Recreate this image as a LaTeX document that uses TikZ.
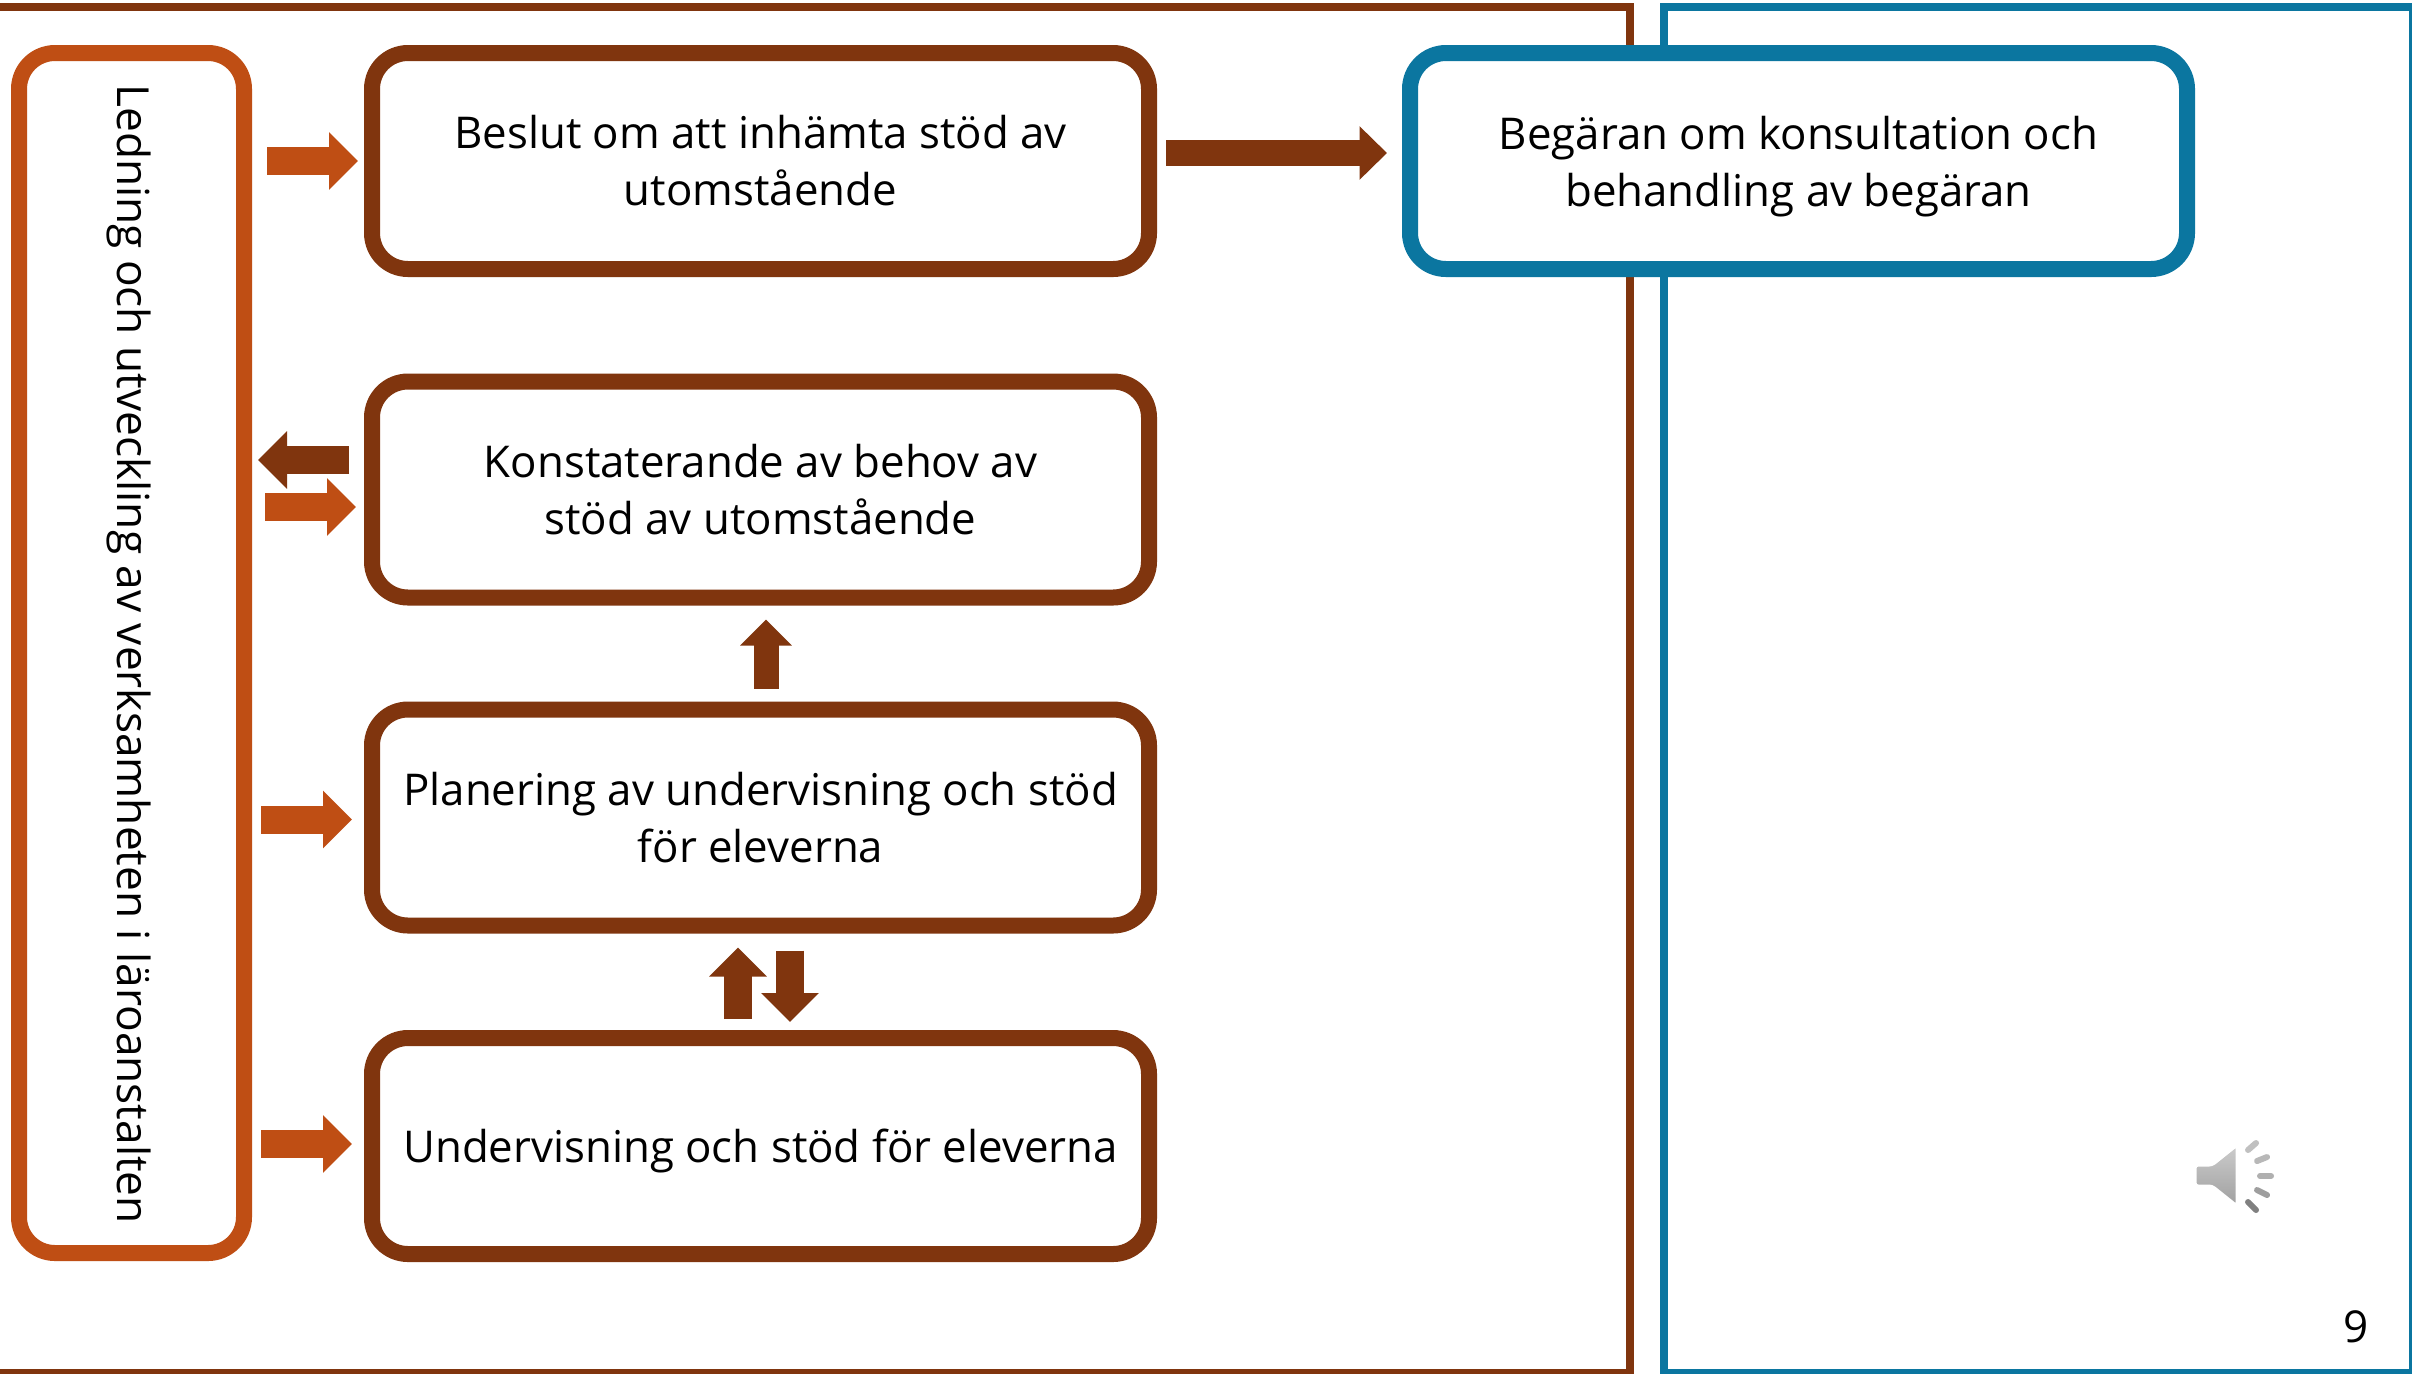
\documentclass[tikz,border=0pt]{standalone}
\usepackage{fontspec}
\setmainfont{Open Sans}
\usetikzlibrary{arrows.meta}
\definecolor{rust}{HTML}{BF4E14}
\definecolor{brownc}{HTML}{80350E}
\definecolor{bluec}{HTML}{0B76A0}
\definecolor{spk}{HTML}{B0B0B0}
\tikzset{
  frame/.style={draw=#1,line width=4pt,fill=white,inner sep=0pt,outer sep=0pt,anchor=north west},
  flowbox/.style={draw=#1,line width=8pt,fill=white,rounded corners=18pt,inner sep=0pt,outer sep=4pt,
     minimum width=388.5pt,minimum height=108pt,align=center,font=\fontsize{21.9}{28.5}\selectfont},
  blockR/.style={draw=rust,line width=14pt,-{Triangle[length=14.5pt,width=28pt]}},
  blockB/.style={draw=brownc,line width=14pt,-{Triangle[length=14.5pt,width=28pt]}},
  spkdash/.style={draw=spk,line width=3pt,line cap=round},
}
\begin{document}
\begin{tikzpicture}[x=0.5pt,y=-0.5pt]
\useasboundingbox (0,0) rectangle (2412,1373);
\fill[white] (0,0) rectangle (2412,1373);
% frames
\node[frame=brownc,minimum width=825pt,minimum height=683pt] (fl) at (-20,7) {};
\node[frame=bluec,minimum width=374.75pt,minimum height=683pt] (fr) at (1663.5,7) {};
% boxes
\node[flowbox=rust,minimum width=112.5pt,minimum height=600pt] (lead) at (131.5,653) {};
\node[rotate=-90,font=\fontsize{22.1}{28.5}\selectfont] (leadtext) at (129,654) {Ledning och utveckling av verksamheten i läroanstalten};
\node[flowbox=brownc] (b1) at (760.5,161) {Beslut om att inhämta stöd av\\utomstående};
\node[flowbox=brownc] (b2) at (760.5,489.5) {Konstaterande av behov av\\stöd av utomstående};
\node[flowbox=brownc] (b3) at (760.5,817.5) {Planering av undervisning och stöd\\för eleverna};
\node[flowbox=brownc,text depth=0pt] (b4) at (760.5,1146) {Undervisning och stöd för eleverna};
\node[flowbox=bluec,text depth=0pt] (req) at (1798.5,161) {Begäran om konsultation och\\behandling av begäran};
% arrow levels
\coordinate (a2y) at (0,153);
\coordinate (a3y) at (0,460);
\coordinate (a4y) at (0,507);
\coordinate (a6y) at (0,819.5);
\coordinate (a7y) at (0,1144);
% arrows
\draw[blockR,shorten <=7.5pt,shorten >=3pt] (lead.east |- b1.west) -- (b1.west);
\draw[blockB,line width=13pt,-{Triangle[length=13.75pt,width=26pt]},shorten <=4.5pt,shorten >=7.5pt] (b1.east |- a2y) -- (req.west |- a2y);
\draw[blockB,shorten <=7.5pt,shorten >=3pt] (b2.west |- a3y) -- (lead.east |- a3y);
\draw[blockR,shorten <=6.5pt,shorten >=4pt] (lead.east |- a4y) -- (b2.west |- a4y);
\draw[blockR,shorten <=4.5pt,shorten >=6pt] (lead.east |- a6y) -- (b3.west |- a6y);
\draw[blockR,shorten <=4.5pt,shorten >=6pt] (lead.east |- a7y) -- (b4.west |- a7y);
\draw[blockB,line width=12.5pt,-{Triangle[length=13pt,width=25pt]},shorten <=6.5pt,shorten >=7pt] ([xshift=2.75pt]b3.north) -- ([xshift=2.75pt]b2.south);
\draw[blockB,shorten <=5.5pt,shorten >=7pt] ([xshift=-11.25pt]b4.north) -- ([xshift=-11.25pt]b3.south);
\draw[blockB,shorten <=8.5pt,shorten >=4pt] ([xshift=14.75pt]b3.south) -- ([xshift=14.75pt]b4.north);
% speaker
\path[draw=white,line width=1.5pt,top color=gray!40,bottom color=gray!75,rounded corners=1.5pt]
  (2195,1165) -- (2212,1165) -- (2237,1145) -- (2237,1206) -- (2212,1186) -- (2195,1186) -- cycle;
\draw[spkdash,spk!80] (2248,1150) -- (2256,1143);
\draw[spkdash,spk!90] (2257,1161) -- (2267,1157);
\draw[spkdash] (2260,1176) -- (2271,1176);
\draw[spkdash,spk!90!black] (2257,1190) -- (2267,1195);
\draw[spkdash,gray] (2248,1202) -- (2256,1210);
\node[font=\fontsize{22}{26}\selectfont] (pg) at (2356,1327) {9};
\end{tikzpicture}
\end{document}
